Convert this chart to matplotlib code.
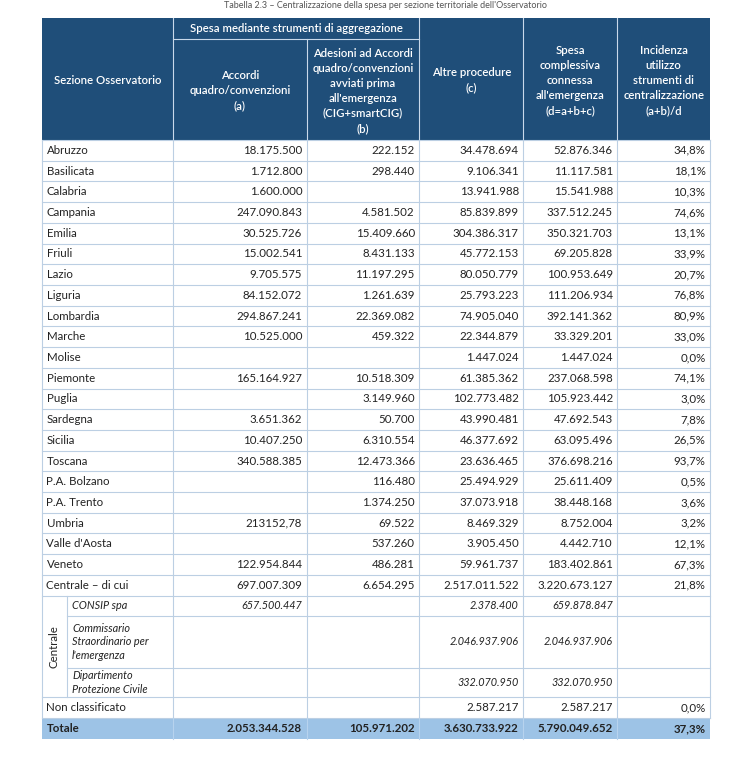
import matplotlib
matplotlib.use("Agg")
import matplotlib.pyplot as plt
from matplotlib.patches import Rectangle

plt.rcParams['font.family'] = ['Lato', 'DejaVu Sans']

# ---------------- data ----------------
regions = ["Abruzzo", "Basilicata", "Calabria", "Campania", "Emilia", "Friuli", "Lazio",
           "Liguria", "Lombardia", "Marche", "Molise", "Piemonte", "Puglia", "Sardegna",
           "Sicilia", "Toscana", "P.A. Bolzano", "P.A. Trento", "Umbria", "Valle d'Aosta",
           "Veneto", "Centrale \u2013 di cui"]
col_a = ["18.175.500", "1.712.800", "1.600.000", "247.090.843", "30.525.726", "15.002.541",
         "9.705.575", "84.152.072", "294.867.241", "10.525.000", "", "165.164.927", "",
         "3.651.362", "10.407.250", "340.588.385", "", "", "213152,78", "", "122.954.844",
         "697.007.309"]
col_b = ["222.152", "298.440", "", "4.581.502", "15.409.660", "8.431.133", "11.197.295",
         "1.261.639", "22.369.082", "459.322", "", "10.518.309", "3.149.960", "50.700",
         "6.310.554", "12.473.366", "116.480", "1.374.250", "69.522", "537.260", "486.281",
         "6.654.295"]
col_c = ["34.478.694", "9.106.341", "13.941.988", "85.839.899", "304.386.317", "45.772.153",
         "80.050.779", "25.793.223", "74.905.040", "22.344.879", "1.447.024", "61.385.362",
         "102.773.482", "43.990.481", "46.377.692", "23.636.465", "25.494.929", "37.073.918",
         "8.469.329", "3.905.450", "59.961.737", "2.517.011.522"]
col_d = ["52.876.346", "11.117.581", "15.541.988", "337.512.245", "350.321.703", "69.205.828",
         "100.953.649", "111.206.934", "392.141.362", "33.329.201", "1.447.024", "237.068.598",
         "105.923.442", "47.692.543", "63.095.496", "376.698.216", "25.611.409", "38.448.168",
         "8.752.004", "4.442.710", "183.402.861", "3.220.673.127"]
col_pct = ["34,8%", "18,1%", "10,3%", "74,6%", "13,1%", "33,9%", "20,7%", "76,8%", "80,9%",
           "33,0%", "0,0%", "74,1%", "3,0%", "7,8%", "26,5%", "93,7%", "0,5%", "3,6%", "3,2%",
           "12,1%", "67,3%", "21,8%"]

sub_labels = ["CONSIP spa", "Commissario\nStraordinario per\nl'emergenza",
              "Dipartimento\nProtezione Civile"]
sub_a = ["657.500.447", "", ""]
sub_b = ["", "", ""]
sub_c = ["2.378.400", "2.046.937.906", "332.070.950"]
sub_d = ["659.878.847", "2.046.937.906", "332.070.950"]

nc_row = ["Non classificato", "", "", "2.587.217", "2.587.217", "0,0%"]
tot_row = ["Totale", "2.053.344.528", "105.971.202", "3.630.733.922", "5.790.049.652", "37,3%"]

title = "Tabella 2.3 \u2013 Centralizzazione della spesa per sezione territoriale dell'Osservatorio"
hdr_group = "Spesa mediante strumenti di aggregazione"
hdr_cols = ["Sezione Osservatorio", "Accordi\nquadro/convenzioni\n(a)",
            "Adesioni ad Accordi\nquadro/convenzioni\navviati prima\nall'emergenza\n(CIG+smartCIG)\n(b)",
            "Altre procedure\n(c)", "Spesa\ncomplessiva\nconnessa\nall'emergenza\n(d=a+b+c)",
            "Incidenza\nutilizzo\nstrumenti di\ncentralizzazione\n(a+b)/d"]

# ---------------- layout ----------------
W, H = 736, 767
fig = plt.figure(figsize=(W / 100, H / 100), dpi=100)
ax = fig.add_axes([0, 0, 1, 1])
ax.set_xlim(0, W)
ax.set_ylim(H, 0)
ax.axis('off')

HDR = '#1F4E79'
GRID = '#BCCFE3'
TOT = '#9DC3E6'
TXT = '#222222'
FS = 8.3
HFS = 8.2

xs = [41.5, 173.3, 306.7, 419.3, 523.3, 617.3, 710.0]
y_top, y_sub, y_hdr = 18.3, 39.3, 140.0
rh = 20.71

# title
ax.text((xs[0] + xs[-1]) / 2 + 10, 1.5, title, ha='center', va='top', fontsize=6.5,
        color='#555555')

# header background
ax.add_patch(Rectangle((xs[0], y_top), xs[-1] - xs[0], y_hdr - y_top, color=HDR, lw=0))
hline = dict(color='#C9D9EA', lw=0.8)
ax.plot([xs[1], xs[3]], [y_sub, y_sub], **hline)
for i, x in enumerate(xs[1:-1], start=1):
    if i == 2:
        ax.plot([x, x], [y_sub, y_hdr], **hline)
    else:
        ax.plot([x, x], [y_top, y_hdr], **hline)
ax.text((xs[1] + xs[3]) / 2, (y_top + y_sub) / 2, hdr_group, ha='center', va='center',
        color='white', fontsize=HFS, fontweight='semibold')
for i, t in enumerate(hdr_cols):
    y0 = y_top if i not in (1, 2) else y_sub
    ax.text((xs[i] + xs[i + 1]) / 2, (y0 + y_hdr) / 2 + 1, t, ha='center', va='center',
            color='white', fontsize=HFS, fontweight='semibold', linespacing=1.45)

# body rows
row_tops = [y_hdr + i * rh for i in range(len(regions) + 1)]
y = row_tops[-1]
sub_h = [20.0, 52.6, 29.0]
sub_tops = [y]
for h in sub_h:
    sub_tops.append(sub_tops[-1] + h)
nc_top = sub_tops[-1]
tot_top = nc_top + 21.0
tot_bot = tot_top + 21.0

pad = 4.5


def put_row(vals, ymid, italic=False, bold=False, xl=xs[0] + 5, fs=FS):
    style = 'italic' if italic else 'normal'
    weight = 'bold' if bold else 'normal'
    if vals[0]:
        ax.text(xl, ymid, vals[0], ha='left', va='center', fontsize=fs, color=TXT,
                style=style, fontweight=weight, linespacing=1.3)
    for j, v in enumerate(vals[1:], start=1):
        if v:
            ax.text(xs[j + 1] - pad, ymid, v, ha='right', va='center', fontsize=fs,
                    color=TXT, style=style, fontweight=weight)


for i in range(len(regions)):
    ymid = row_tops[i] + rh / 2
    put_row([regions[i], col_a[i], col_b[i], col_c[i], col_d[i], col_pct[i]], ymid)

for k in range(3):
    ymid = (sub_tops[k] + sub_tops[k + 1]) / 2
    put_row([sub_labels[k], sub_a[k], sub_b[k], sub_c[k], sub_d[k], ""], ymid,
            italic=True, xl=72, fs=7.8)

put_row(nc_row, nc_top + 10.5)

ax.add_patch(Rectangle((xs[0], tot_top), xs[-1] - xs[0], tot_bot - tot_top, color=TOT, lw=0))
put_row(tot_row, tot_top + 10.5, bold=True)

# vertical label "Centrale"
ax.text((xs[0] + 67.3) / 2, (sub_tops[0] + sub_tops[-1]) / 2, "Centrale", rotation=90,
        ha='center', va='center', fontsize=FS, color=TXT)

# grid lines
g = dict(color=GRID, lw=0.8)
for yy in row_tops + sub_tops[1:] + [tot_top]:
    x0 = 67.3 if yy in sub_tops[1:-1] else xs[0]
    ax.plot([x0, xs[-1]], [yy, yy], **g)
for x in xs:
    ax.plot([x, x], [y_hdr, tot_top], **g)
ax.plot([67.3, 67.3], [sub_tops[0], sub_tops[-1]], **g)
for x in xs[1:-1]:
    ax.plot([x, x], [tot_top, tot_bot], color='#B7D3EE', lw=0.8)

fig.savefig("out.png", dpi=100, facecolor='white')
